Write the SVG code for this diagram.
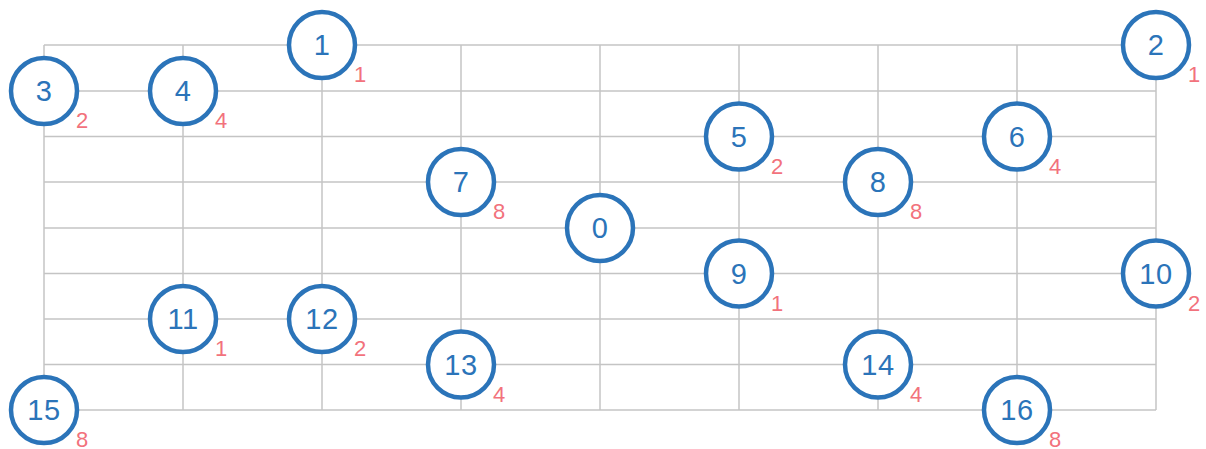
<svg xmlns="http://www.w3.org/2000/svg" width="1206" height="449" viewBox="0 0 1206 449">
<style>
.grid line{stroke:#c4c4c4;stroke-width:1.5}
.node circle{fill:#fff;stroke:#2b74b9;stroke-width:4.5}
.num{font-family:"Liberation Sans",Arial,sans-serif;font-size:29px;fill:#2b74b9;text-anchor:middle;letter-spacing:0.5px}
.w{font-family:"Liberation Sans",Arial,sans-serif;font-size:22px;fill:#f2727c;text-anchor:middle}
</style>
<rect width="1206" height="449" fill="#fff"/>
<g id="connectors" class="grid">
<line x1="44" y1="45" x2="1156" y2="45"/>
<line x1="44" y1="91" x2="1156" y2="91"/>
<line x1="44" y1="136.5" x2="1156" y2="136.5"/>
<line x1="44" y1="182" x2="1156" y2="182"/>
<line x1="44" y1="228" x2="1156" y2="228"/>
<line x1="44" y1="273.5" x2="1156" y2="273.5"/>
<line x1="44" y1="319" x2="1156" y2="319"/>
<line x1="44" y1="364.5" x2="1156" y2="364.5"/>
<line x1="44" y1="410" x2="1156" y2="410"/>
<line x1="44" y1="45" x2="44" y2="410"/>
<line x1="183" y1="45" x2="183" y2="410"/>
<line x1="322" y1="45" x2="322" y2="410"/>
<line x1="461" y1="45" x2="461" y2="410"/>
<line x1="600" y1="45" x2="600" y2="410"/>
<line x1="739" y1="45" x2="739" y2="410"/>
<line x1="878" y1="45" x2="878" y2="410"/>
<line x1="1017" y1="45" x2="1017" y2="410"/>
<line x1="1156" y1="45" x2="1156" y2="410"/>
</g>
<g id="n1" class="node"><circle cx="322" cy="45" r="33"/><text class="num" x="322" y="55">1</text><text class="w" x="360" y="82">1</text></g>
<g id="n2" class="node"><circle cx="1156" cy="45" r="33"/><text class="num" x="1156" y="55">2</text><text class="w" x="1194" y="82">1</text></g>
<g id="n3" class="node"><circle cx="44" cy="91" r="33"/><text class="num" x="44" y="101">3</text><text class="w" x="82" y="128">2</text></g>
<g id="n4" class="node"><circle cx="183" cy="91" r="33"/><text class="num" x="183" y="101">4</text><text class="w" x="221" y="128">4</text></g>
<g id="n5" class="node"><circle cx="739" cy="136.5" r="33"/><text class="num" x="739" y="146.5">5</text><text class="w" x="777" y="173.5">2</text></g>
<g id="n6" class="node"><circle cx="1017" cy="136.5" r="33"/><text class="num" x="1017" y="146.5">6</text><text class="w" x="1055" y="173.5">4</text></g>
<g id="n7" class="node"><circle cx="461" cy="182" r="33"/><text class="num" x="461" y="192">7</text><text class="w" x="499" y="219">8</text></g>
<g id="n8" class="node"><circle cx="878" cy="182" r="33"/><text class="num" x="878" y="192">8</text><text class="w" x="916" y="219">8</text></g>
<g id="n0" class="node"><circle cx="600" cy="228" r="33"/><text class="num" x="600" y="238">0</text></g>
<g id="n9" class="node"><circle cx="739" cy="273.5" r="33"/><text class="num" x="739" y="283.5">9</text><text class="w" x="777" y="310.5">1</text></g>
<g id="n10" class="node"><circle cx="1156" cy="273.5" r="33"/><text class="num" x="1156" y="283.5">10</text><text class="w" x="1194" y="310.5">2</text></g>
<g id="n11" class="node"><circle cx="183" cy="319" r="33"/><text class="num" x="183" y="329">11</text><text class="w" x="221" y="356">1</text></g>
<g id="n12" class="node"><circle cx="322" cy="319" r="33"/><text class="num" x="322" y="329">12</text><text class="w" x="360" y="356">2</text></g>
<g id="n13" class="node"><circle cx="461" cy="364.5" r="33"/><text class="num" x="461" y="374.5">13</text><text class="w" x="499" y="401.5">4</text></g>
<g id="n14" class="node"><circle cx="878" cy="364.5" r="33"/><text class="num" x="878" y="374.5">14</text><text class="w" x="916" y="401.5">4</text></g>
<g id="n15" class="node"><circle cx="44" cy="410" r="33"/><text class="num" x="44" y="420">15</text><text class="w" x="82" y="447">8</text></g>
<g id="n16" class="node"><circle cx="1017" cy="410" r="33"/><text class="num" x="1017" y="420">16</text><text class="w" x="1055" y="447">8</text></g>
</svg>
